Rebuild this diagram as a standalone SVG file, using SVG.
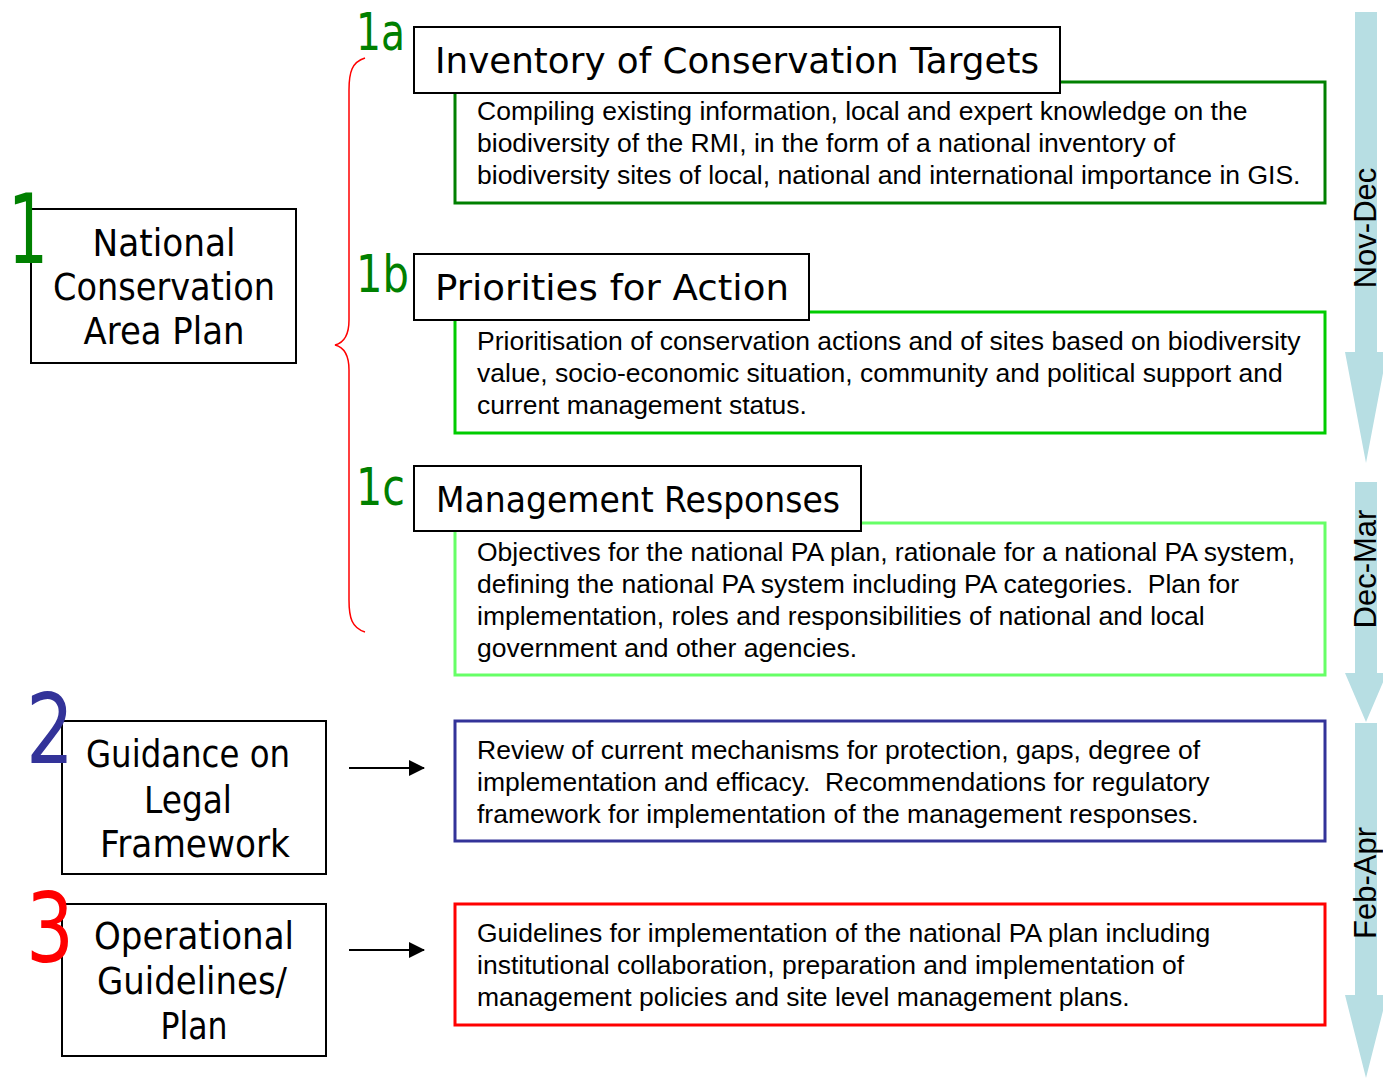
<svg xmlns="http://www.w3.org/2000/svg" width="1383" height="1079" viewBox="0 0 1383 1079">
<defs>
<style>
.hand{font-family:"Comic Sans MS","DejaVu Sans",sans-serif;fill:#000;}
.head{font-size:37px;text-anchor:middle;}
.ttl{font-size:35px;}
.num{font-family:"Comic Sans MS","DejaVu Sans",sans-serif;}
.big{font-size:96px;}
.sub{font-size:52px;fill:#008000;}
.body{font-family:"Liberation Sans",Arial,sans-serif;font-size:26.5px;fill:#000;white-space:pre;}
.tbox{fill:#fff;stroke:#000;stroke-width:2;}
.dbox{fill:#fff;stroke-width:3;}
.tl{fill:#B7DEE3;}
.tlt{font-family:"Liberation Sans",Arial,sans-serif;font-size:31px;fill:#000;text-anchor:middle;}
.conn{fill:none;stroke:#000;stroke-width:2;}
</style>
<marker id="ah" markerWidth="16" markerHeight="16" refX="15" refY="8" orient="auto" markerUnits="userSpaceOnUse">
<path d="M0,0 L16,8 L0,16 Z" fill="#000"/>
</marker>
</defs>
<rect width="1383" height="1079" fill="#fff"/>

<g id="timeline">
<polygon class="tl" points="1355,12 1377,12 1377,352 1387,352 1366,463 1345,352 1355,352"/>
<polygon class="tl" points="1355,482 1377,482 1377,673 1387,673 1366,722 1345,673 1355,673"/>
<polygon class="tl" points="1355,723 1377,723 1377,995 1387,995 1366,1078 1345,995 1355,995"/>
<text class="tlt" transform="translate(1376,228) rotate(-90)">Nov-Dec</text>
<text class="tlt" transform="translate(1376,569) rotate(-90)">Dec-Mar</text>
<text class="tlt" transform="translate(1376,883) rotate(-90)">Feb-Apr</text>
</g>

<g id="connectors">
<path d="M365,58 C352,62 349,72 349,90 L349,320 C349,336 343,343 335,345 C343,347 349,354 349,370 L349,600 C349,618 352,628 365,632" fill="none" stroke="#FF0000" stroke-width="1.5"/>
<line class="conn" x1="349" y1="768" x2="424" y2="768" marker-end="url(#ah)"/>
<line class="conn" x1="349" y1="950" x2="424" y2="950" marker-end="url(#ah)"/>
</g>

<g id="node-1">
<rect class="tbox" x="31" y="209" width="265" height="154"/>
<text class="hand head" x="164" y="256" textLength="143" lengthAdjust="spacingAndGlyphs">National</text>
<text class="hand head" x="164" y="300" textLength="222" lengthAdjust="spacingAndGlyphs">Conservation</text>
<text class="hand head" x="164" y="344" textLength="161" lengthAdjust="spacingAndGlyphs">Area Plan</text>
<text class="num big" x="8" y="263" fill="#008000" textLength="40" lengthAdjust="spacingAndGlyphs">1</text>
</g>

<g id="node-1a">
<rect class="dbox" x="455" y="82" width="870" height="121" stroke="#008000"/>
<rect class="tbox" x="414" y="27" width="646" height="66"/>
<text class="hand ttl" x="435" y="73" textLength="604" lengthAdjust="spacingAndGlyphs">Inventory of Conservation Targets</text>
<text class="num sub" x="356" y="50" textLength="49" lengthAdjust="spacingAndGlyphs">1a</text>
<text class="body" x="477" y="120">Compiling existing information, local and expert knowledge on the</text>
<text class="body" x="477" y="152">biodiversity of the RMI, in the form of a national inventory of</text>
<text class="body" x="477" y="184">biodiversity sites of local, national and international importance in GIS.</text>
</g>

<g id="node-1b">
<rect class="dbox" x="455" y="312" width="870" height="121" stroke="#00CC00"/>
<rect class="tbox" x="414" y="254" width="395" height="66"/>
<text class="hand ttl" x="435" y="300" textLength="354" lengthAdjust="spacingAndGlyphs">Priorities for Action</text>
<text class="num sub" x="356" y="292" textLength="53" lengthAdjust="spacingAndGlyphs">1b</text>
<text class="body" x="477" y="350">Prioritisation of conservation actions and of sites based on biodiversity</text>
<text class="body" x="477" y="382">value, socio-economic situation, community and political support and</text>
<text class="body" x="477" y="414">current management status.</text>
</g>

<g id="node-1c">
<rect class="dbox" x="455" y="523" width="870" height="152" stroke="#66FF66"/>
<rect class="tbox" x="414" y="466" width="447" height="65"/>
<text class="hand ttl" x="436" y="512" textLength="404" lengthAdjust="spacingAndGlyphs">Management Responses</text>
<text class="num sub" x="356" y="505" textLength="49" lengthAdjust="spacingAndGlyphs">1c</text>
<text class="body" x="477" y="561">Objectives for the national PA plan, rationale for a national PA system,</text>
<text class="body" x="477" y="593">defining the national PA system including PA categories.  Plan for</text>
<text class="body" x="477" y="625">implementation, roles and responsibilities of national and local</text>
<text class="body" x="477" y="657">government and other agencies.</text>
</g>

<g id="node-2">
<rect class="tbox" x="62" y="721" width="264" height="153"/>
<text class="hand head" x="188" y="767" textLength="204" lengthAdjust="spacingAndGlyphs">Guidance on</text>
<text class="hand head" x="188" y="813" textLength="88" lengthAdjust="spacingAndGlyphs">Legal</text>
<text class="hand head" x="195" y="857" textLength="190" lengthAdjust="spacingAndGlyphs">Framework</text>
<text class="num big" x="26" y="763" fill="#333399" textLength="48" lengthAdjust="spacingAndGlyphs">2</text>
</g>

<g id="node-2-desc">
<rect class="dbox" x="455" y="721" width="870" height="120" stroke="#333399"/>
<text class="body" x="477" y="759">Review of current mechanisms for protection, gaps, degree of</text>
<text class="body" x="477" y="791">implementation and efficacy.  Recommendations for regulatory</text>
<text class="body" x="477" y="823">framework for implementation of the management responses.</text>
</g>

<g id="node-3">
<rect class="tbox" x="62" y="904" width="264" height="152"/>
<text class="hand head" x="194" y="949" textLength="200" lengthAdjust="spacingAndGlyphs">Operational</text>
<text class="hand head" x="192" y="994" textLength="190" lengthAdjust="spacingAndGlyphs">Guidelines/</text>
<text class="hand head" x="194" y="1039" textLength="67" lengthAdjust="spacingAndGlyphs">Plan</text>
<text class="num big" x="26" y="962" fill="#FF0000" textLength="48" lengthAdjust="spacingAndGlyphs">3</text>
</g>

<g id="node-3-desc">
<rect class="dbox" x="455" y="904" width="870" height="121" stroke="#FF0000"/>
<text class="body" x="477" y="942">Guidelines for implementation of the national PA plan including</text>
<text class="body" x="477" y="974">institutional collaboration, preparation and implementation of</text>
<text class="body" x="477" y="1006">management policies and site level management plans.</text>
</g>
</svg>
